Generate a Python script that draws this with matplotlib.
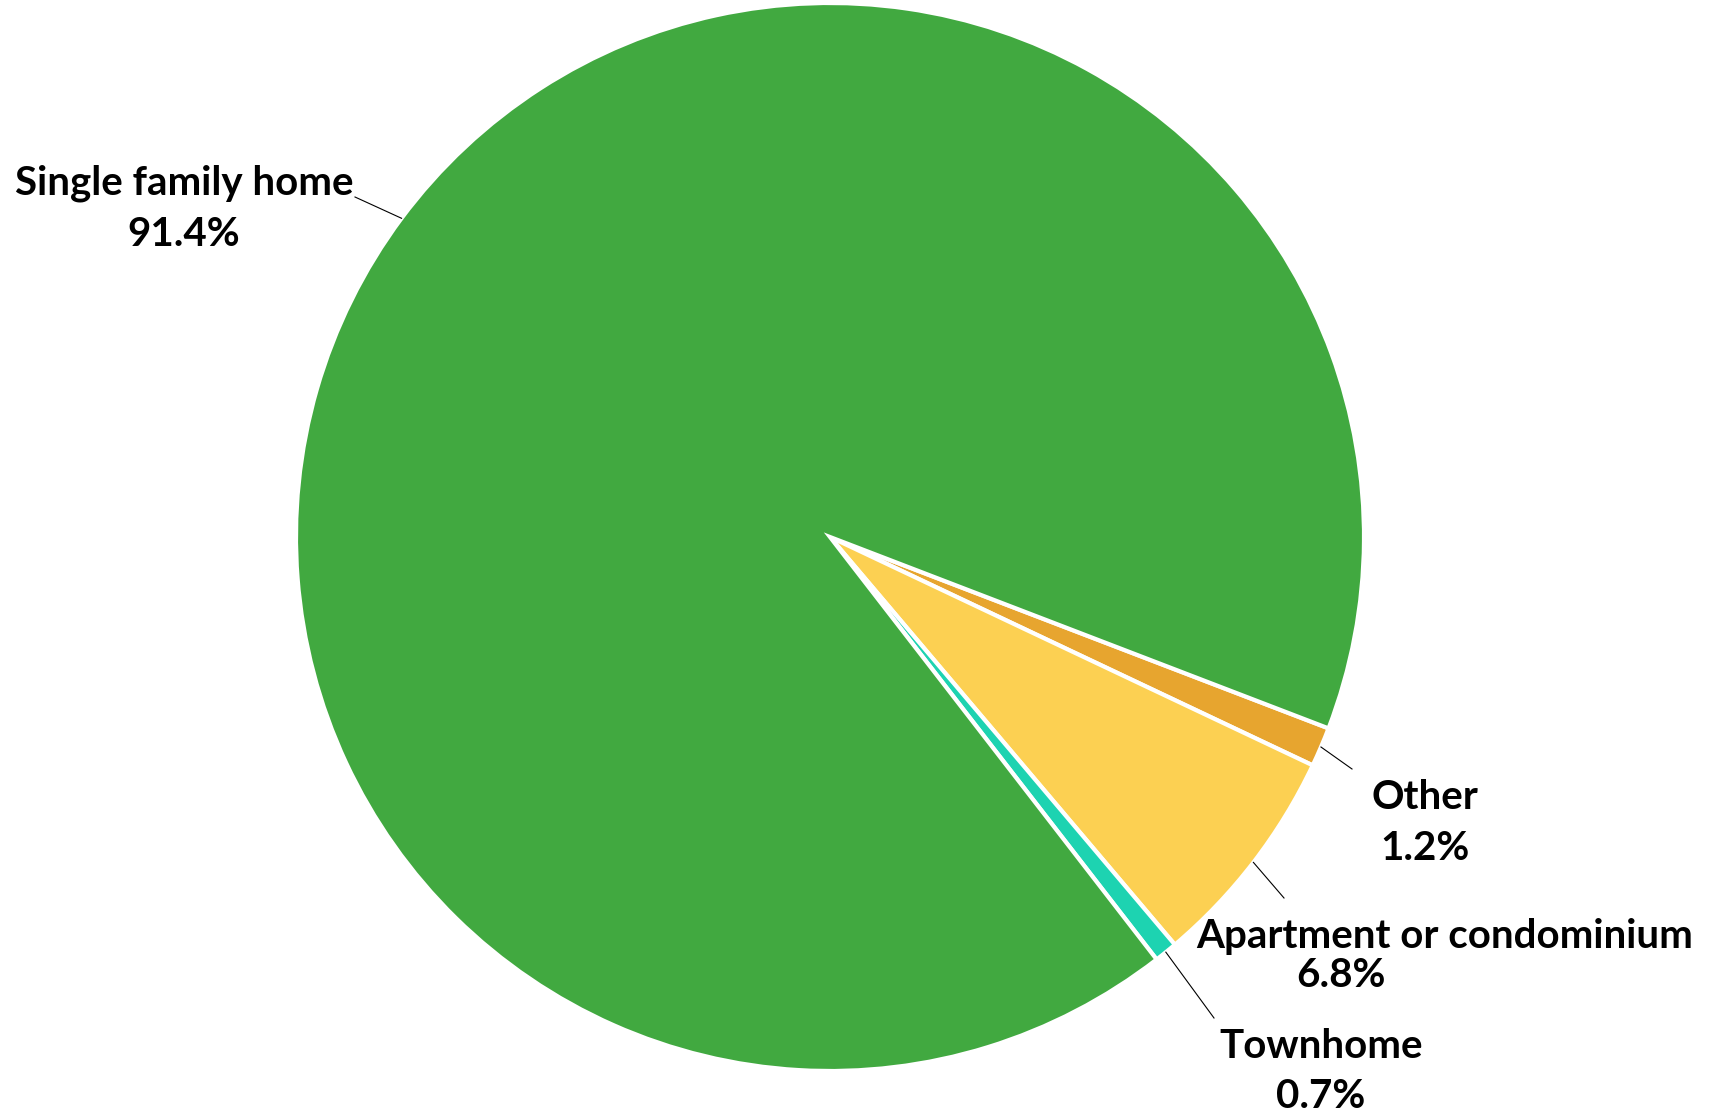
import numpy as np
import matplotlib.pyplot as plt

# data, clockwise from the "Other" slice
labels = ['Other', 'Apartment or condominium', 'Townhome', 'Single family home']
shares = [1.2, 6.8, 0.7, 91.4]
pct_text = ['1.2%', '6.8%', '0.7%', '91.4%']
colors = ['#E7A52F', '#FCD052', '#1DD3B1', '#41A940']

W, H = 1719, 1117
cx, cy, R = 830, 537, 534  # pie centre / radius in pixels


def px(x, y):
    return (x - cx) / R, (cy - y) / R


fig = plt.figure(figsize=(W / 100, H / 100), dpi=100)
ax = fig.add_axes([0, 0, 1, 1])
wedges, _ = ax.pie(shares, colors=colors, startangle=-21, counterclock=False,
                   wedgeprops=dict(edgecolor='white', linewidth=3))
x0, y0 = px(0, H)
x1, y1 = px(W, 0)
ax.set_xlim(x0, x1)
ax.set_ylim(y0, y1)
ax.set_aspect('equal')
ax.axis('off')

font = dict(family='Lato', fontweight='bold', fontsize=29, color='black',
            ha='center', va='center')

# label name position, percent position, leader line end (pixels)
name_pos = [(1425, 797), (1445, 936), (1321, 1046), (184, 183)]
pct_pos = [(1425, 848), (1341, 975), (1321, 1097), (184, 234)]
line_end = [(1352, 769), (1284, 898), (1214, 1018), (355, 197)]

for w, name, pct, npos, ppos, lend in zip(wedges, labels, pct_text, name_pos, pct_pos, line_end):
    ang = np.deg2rad((w.theta1 + w.theta2) / 2)
    sx, sy = 1.0 * np.cos(ang), 1.0 * np.sin(ang)
    ex, ey = px(*lend)
    ax.plot([sx, ex], [sy, ey], color='black', lw=0.8)
    ax.text(*px(*npos), name, **font)
    ax.text(*px(*ppos), pct, **font)

fig.savefig('out.png', dpi=100)
